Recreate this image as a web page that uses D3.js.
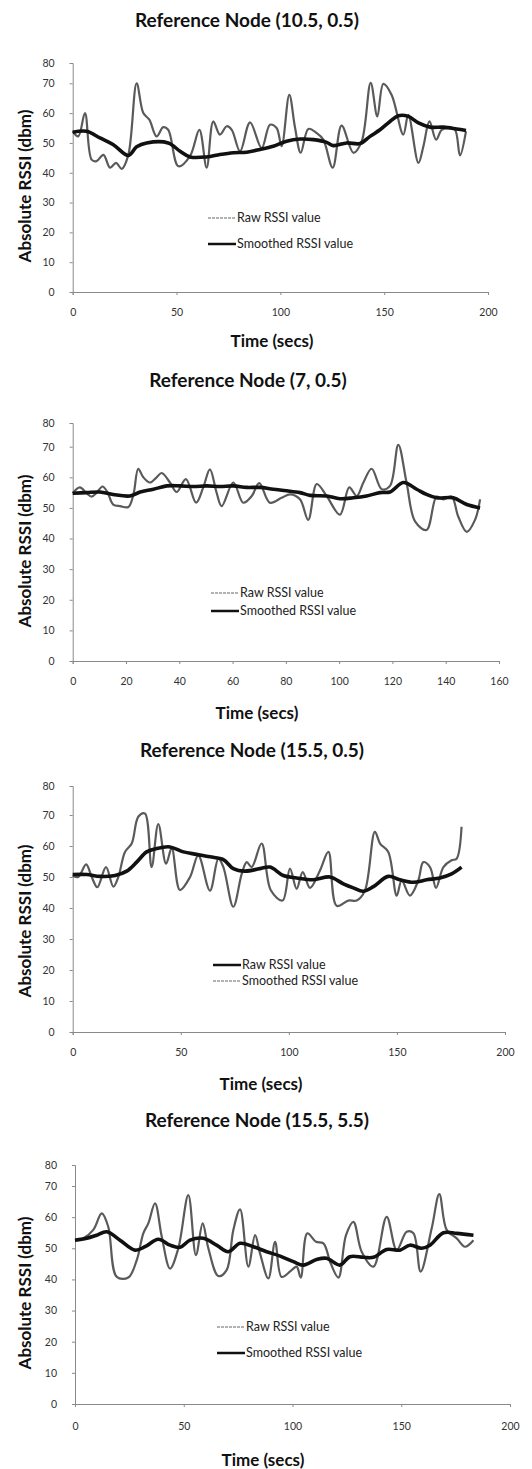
<!DOCTYPE html>
<html>
<head>
<meta charset="utf-8">
<script src="https://cdn.jsdelivr.net/npm/d3@7"></script>
<style>
  body { margin: 0; background: #fff; }
  svg { display: block; font-family: Lato, "Open Sans", sans-serif; }
  .axis path, .axis line { stroke: #8a8a8a; stroke-width: 1; }
  .axis text { font-size: 10.5px; fill: #333; font-family: Lato, sans-serif; }
</style>
</head>
<body>
<div id="chart"></div>
<script>
// Reference Node (10.5, 0.5)
const p1RawT = [0, 2.7, 5.9, 9.1, 11.5, 14.8, 18, 20.9, 23.6, 26.8, 30.8, 34, 36.9, 40.4, 43.6, 46, 50.9, 56.5, 61, 64.5, 67.7, 70.9, 74.2, 76.6, 80.6, 85.4, 91, 95, 98.2, 100.6, 104.3, 107.1, 109.8, 113.5, 117.5, 120.7, 125.2, 129.5, 135.2, 139.2, 143.5, 146.7, 149.6, 153.6, 159.2, 161.6, 166.5, 168.9, 171.8, 175, 177.7, 180.9, 184.1, 186.5, 189.4];
const p1RawV = [53.9, 52.2, 60, 44.4, 43.9, 46, 41.7, 43.3, 41.3, 46, 70, 60, 57.8, 52.2, 55.3, 54.4, 42.2, 45.6, 54.4, 41.7, 57.2, 52.8, 55.6, 54.4, 47.2, 56.9, 48.3, 56.1, 55, 48.9, 66.1, 55, 46.7, 54.7, 53.3, 51.1, 41.7, 55.8, 46.7, 50.6, 70.2, 58.9, 69.8, 66.1, 52.8, 59.4, 43.3, 48.9, 57.2, 51.1, 54.4, 55, 54.4, 45.8, 53.9];
const p1SmoothT = [0, 6.7, 13.1, 19.6, 26.8, 30.8, 35.6, 46, 51.7, 56.5, 64.5, 70.9, 77.4, 83.8, 90.2, 96.6, 103, 109.5, 115.9, 122.3, 125.5, 131.9, 138.4, 143.2, 148, 152.8, 156.8, 161.6, 166.5, 172.1, 178.5, 184.9, 189.4];
const p1SmoothV = [53.6, 53.9, 51.7, 49.4, 45.8, 48.7, 50, 50, 47.2, 45.3, 45.3, 46.1, 46.7, 46.9, 47.8, 48.9, 50.6, 51.3, 51.1, 50.2, 49.1, 50, 49.8, 52.2, 54.4, 57.2, 59.1, 58.9, 56.7, 55.3, 55.3, 54.7, 54.2];

// Reference Node (7, 0.5)
const p2RawT = [0, 2.7, 5.2, 7.1, 9, 11.2, 13, 15.2, 17.8, 20.9, 22.8, 24.6, 26.5, 29, 31.5, 33.4, 36.5, 39, 42.5, 46.3, 49, 51.5, 54, 55.9, 60.3, 64, 67.2, 70, 74, 78.4, 81.6, 85.3, 88.4, 91.6, 95.3, 100.3, 103.8, 106.6, 109.1, 112.2, 116, 119.1, 122.2, 125.3, 128.5, 132.8, 136.6, 139.1, 142.2, 144.7, 147.9, 151, 152.9];
const p2RawV = [54.8, 56.7, 54.8, 53.7, 55, 57, 55.2, 51.1, 50.6, 50.3, 54.4, 62.8, 60, 58.3, 60, 61.4, 58.3, 55.2, 59.4, 51.7, 56.7, 62.6, 55, 50.6, 58.3, 51.7, 53.9, 58.1, 51.7, 53.3, 54.4, 52.8, 46.1, 57.8, 53.9, 47.8, 56.7, 53.9, 58.3, 62.8, 56.1, 57.2, 70.8, 58.3, 45.6, 42.8, 53.7, 52.8, 53.7, 47.2, 42.2, 46.1, 52.8];
const p2SmoothT = [0, 5.2, 10.2, 15.2, 21.5, 25.3, 30.3, 35.3, 40.3, 45.3, 50.3, 55.3, 60.3, 65.3, 70.3, 75.3, 80.3, 85.3, 89.1, 95.3, 100.3, 105.3, 110.3, 115.3, 119.1, 124.1, 129.1, 132.8, 136.6, 142.8, 147.9, 152.9];
const p2SmoothV = [54.8, 55, 55.2, 54.4, 53.9, 55.2, 56.1, 57.2, 57.2, 57, 57.2, 57, 57.2, 56.7, 56.7, 56.1, 55.6, 55, 54.1, 53.9, 53, 53.3, 53.9, 55, 55.2, 58.3, 56.1, 54.4, 53.3, 53.3, 51.1, 50];

// Reference Node (15.5, 0.5)
const p3RawT = [0, 2.6, 6.2, 8.8, 11.4, 15.4, 18.8, 21.1, 24.2, 27.3, 30.4, 33.4, 36.5, 39.6, 43.2, 45.8, 49.6, 54.3, 58.1, 63.5, 67.4, 69.7, 74.3, 78.2, 80.5, 82.8, 87.4, 91.6, 97.1, 100.5, 103.6, 106.4, 109.8, 114.4, 118.3, 122.1, 127.5, 131.4, 135.2, 139.8, 142.2, 146, 149.9, 152.2, 156, 159.9, 162.2, 165.3, 168.1, 171.5, 175.3, 177.6, 179.9];
const p3RawV = [50.5, 50, 54.1, 50, 46.7, 53.2, 46.9, 50, 58.1, 60.8, 69.5, 70.5, 53.2, 67.1, 54.3, 59.3, 45.8, 50, 57, 45.6, 55.9, 53.2, 40.4, 51, 54.8, 53.2, 60.8, 45.8, 42.4, 52.7, 46.2, 51.6, 46.5, 52.1, 58.1, 40.7, 42.4, 42.4, 45.6, 64.6, 60.8, 58.1, 44, 48.9, 44, 48.9, 54.8, 53.2, 46.5, 53.2, 55.4, 55.9, 66.2];
const p3SmoothT = [0, 6.5, 12.6, 19.6, 25, 29.6, 34.2, 38.8, 45, 51.2, 57.3, 63.5, 69.7, 74.3, 79.7, 86.6, 91.3, 97.4, 103.6, 111.3, 119, 125.2, 129.8, 134.4, 139.1, 146, 151.4, 157.6, 163.7, 169.9, 175.3, 179.9];
const p3SmoothV = [50.8, 50.8, 50.2, 50.5, 51.9, 54.8, 58.1, 59.2, 59.7, 58.1, 57.3, 56.5, 55.6, 52.7, 51.9, 52.7, 53.2, 50.5, 49.7, 49.1, 50, 47.8, 46.5, 45.4, 46.9, 50.2, 49.1, 48.3, 49.1, 49.7, 51, 53.2];

// Reference Node (15.5, 5.5)
const p4RawT = [0, 3.8, 8.4, 12.3, 15.3, 19.2, 24.5, 28.4, 31.4, 33.7, 36.8, 39.9, 43.7, 47.5, 52.1, 55.6, 58.7, 61.3, 65.9, 69.7, 72.8, 75.9, 79.7, 82.8, 85.1, 88.9, 92, 95, 99.6, 101.9, 103.8, 106.8, 110.8, 114.2, 117.6, 121.1, 124.6, 128, 131.8, 137.2, 143.3, 147.9, 152.5, 155.6, 158.9, 164, 167.5, 170.9, 175.5, 179.3, 183.2];
const p4RawV = [52.6, 53.2, 55.9, 61.2, 56.9, 40.8, 40.6, 46.2, 54.8, 58, 64.4, 53.7, 43.5, 50, 67.1, 47.8, 58, 50, 41.1, 43, 55.9, 62.5, 44.1, 54.2, 48.3, 40.3, 52.1, 40.8, 43, 44.1, 40.6, 54.8, 52.1, 51.6, 45.1, 40.6, 54.2, 58.5, 48.9, 44.1, 60.1, 49.4, 55.3, 54.8, 42.5, 56.4, 67.4, 55.9, 53.2, 50.5, 52.6];
const p4SmoothT = [0, 5.4, 10, 14.6, 20.7, 27.6, 32.2, 38.3, 43.7, 48.3, 52.9, 59, 65.1, 70.5, 75.9, 82, 88.1, 94.3, 100.4, 105, 111.1, 115.7, 121.8, 126.4, 132.6, 137.2, 143.3, 149.4, 154, 159.4, 163.2, 169.4, 175.5, 183.2];
const p4SmoothV = [52.6, 53.2, 54.2, 55.3, 52.6, 49.4, 50.5, 52.9, 51, 50.3, 52.6, 53.2, 51, 48.9, 51.6, 50.5, 48.9, 47.5, 45.7, 44.6, 46.4, 46.8, 44.6, 47.3, 47.1, 47.1, 49.6, 49.4, 51, 50, 51, 55, 54.8, 54.2];

const titles = ['Reference Node (10.5, 0.5)', 'Reference Node (7, 0.5)', 'Reference Node (15.5, 0.5)', 'Reference Node (15.5, 5.5)'];
const xMaxes = [200, 160, 200, 200];
const xTickSteps = [50, 20, 50, 50];
const yTicks = [0, 10, 20, 30, 40, 50, 60, 70, 80];
const legendLabels = ['Raw RSSI value', 'Smoothed RSSI value'];
const xTitle = 'Time (secs)';
const yTitle = 'Absolute RSSI (dbm)';

// page layout for each panel (pixels); y scale pinned at 0, 70 and 80 like the scan
const layout = [
    { left: 72.7, right: 488, y0: 292, y70: 83.3, y80: 63, titleX: 247, titleY: 20, tickY: 313, xTitleX: 272, xTitleY: 341, yTitleY: 186, legX: 208, legY: [218, 244], legThick: [false, true] },
    { left: 72.7, right: 499, y0: 661, y70: 446.7, y80: 423, titleX: 248, titleY: 380, tickY: 682, xTitleX: 257, xTitleY: 713, yTitleY: 551, legX: 211, legY: [593, 611], legThick: [false, true] },
    { left: 72.7, right: 505, y0: 1032, y70: 815, y80: 786, titleX: 252, titleY: 750, tickY: 1053, xTitleX: 261, xTitleY: 1084, yTitleY: 921, legX: 213, legY: [965, 981], legThick: [true, false] },
    { left: 75, right: 510, y0: 1404, y70: 1186, y80: 1165, titleX: 257, titleY: 1120, tickY: 1427, xTitleX: 263, xTitleY: 1460, yTitleY: 1293, legX: 217, legY: [1327, 1353], legThick: [false, true] }
];

const rawSeries = [[p1RawT, p1RawV], [p2RawT, p2RawV], [p3RawT, p3RawV], [p4RawT, p4RawV]];
const smoothSeries = [[p1SmoothT, p1SmoothV], [p2SmoothT, p2SmoothV], [p3SmoothT, p3SmoothV], [p4SmoothT, p4SmoothV]];

const width = 532, height = 1469;
const svg = d3.select('#chart').append('svg')
    .attr('width', width)
    .attr('height', height);

const zip = (t, v) => t.map((d, i) => ({ t: d, v: v[i] }));

layout.forEach((L, i) => {
    const g = svg.append('g');

    const x = d3.scaleLinear().domain([0, xMaxes[i]]).range([L.left, L.right]);
    const y = d3.scaleLinear().domain([0, 70, 80]).range([L.y0, L.y70, L.y80]);

    // title
    g.append('text')
        .attr('x', L.titleX)
        .attr('y', L.titleY)
        .attr('dy', '0.35em')
        .attr('text-anchor', 'middle')
        .attr('font-size', '19px')
        .attr('font-weight', 'bold')
        .attr('fill', '#111')
        .text(titles[i]);

    // axes
    const xAxis = d3.axisBottom(x)
        .tickValues(d3.range(0, xMaxes[i] + 1, xTickSteps[i]))
        .tickSize(3)
        .tickPadding(L.tickY - L.y0 - 3 - 4);
    g.append('g')
        .attr('class', 'axis')
        .attr('transform', `translate(0,${L.y0})`)
        .call(xAxis);

    const yAxis = d3.axisLeft(y)
        .tickValues(yTicks)
        .tickSize(3)
        .tickPadding(15);
    g.append('g')
        .attr('class', 'axis')
        .attr('transform', `translate(${L.left},0)`)
        .call(yAxis);

    // axis titles
    g.append('text')
        .attr('x', L.xTitleX)
        .attr('y', L.xTitleY)
        .attr('dy', '0.35em')
        .attr('text-anchor', 'middle')
        .attr('font-size', '17px')
        .attr('font-weight', 'bold')
        .attr('fill', '#111')
        .text(xTitle);

    g.append('text')
        .attr('transform', `translate(25,${L.yTitleY}) rotate(-90)`)
        .attr('dy', '0.35em')
        .attr('text-anchor', 'middle')
        .attr('font-size', '17px')
        .attr('font-weight', 'bold')
        .attr('fill', '#111')
        .text(yTitle);

    // lines
    const line = d3.line()
        .x(d => x(d.t))
        .y(d => y(d.v))
        .curve(d3.curveCatmullRom.alpha(0.5));

    g.append('path')
        .datum(zip(rawSeries[i][0], rawSeries[i][1]))
        .attr('d', line)
        .attr('fill', 'none')
        .attr('stroke', '#5a5a5a')
        .attr('stroke-width', 2.2)
        .attr('stroke-linejoin', 'round');

    g.append('path')
        .datum(zip(smoothSeries[i][0], smoothSeries[i][1]))
        .attr('d', line)
        .attr('fill', 'none')
        .attr('stroke', '#111')
        .attr('stroke-width', 3.6)
        .attr('stroke-linejoin', 'round');

    // legend
    legendLabels.forEach((lab, k) => {
        const thick = L.legThick[k];
        g.append('line')
            .attr('x1', L.legX)
            .attr('x2', L.legX + 28)
            .attr('y1', L.legY[k])
            .attr('y2', L.legY[k])
            .attr('stroke', thick ? '#111' : '#666')
            .attr('stroke-width', thick ? 2.5 : 1.2)
            .attr('stroke-dasharray', thick ? null : '3,1');
        g.append('text')
            .attr('x', L.legX + 29)
            .attr('y', L.legY[k])
            .attr('dy', '0.35em')
            .attr('font-size', '12.5px')
            .attr('fill', '#222')
            .text(lab);
    });
});
</script>
</body>
</html>
